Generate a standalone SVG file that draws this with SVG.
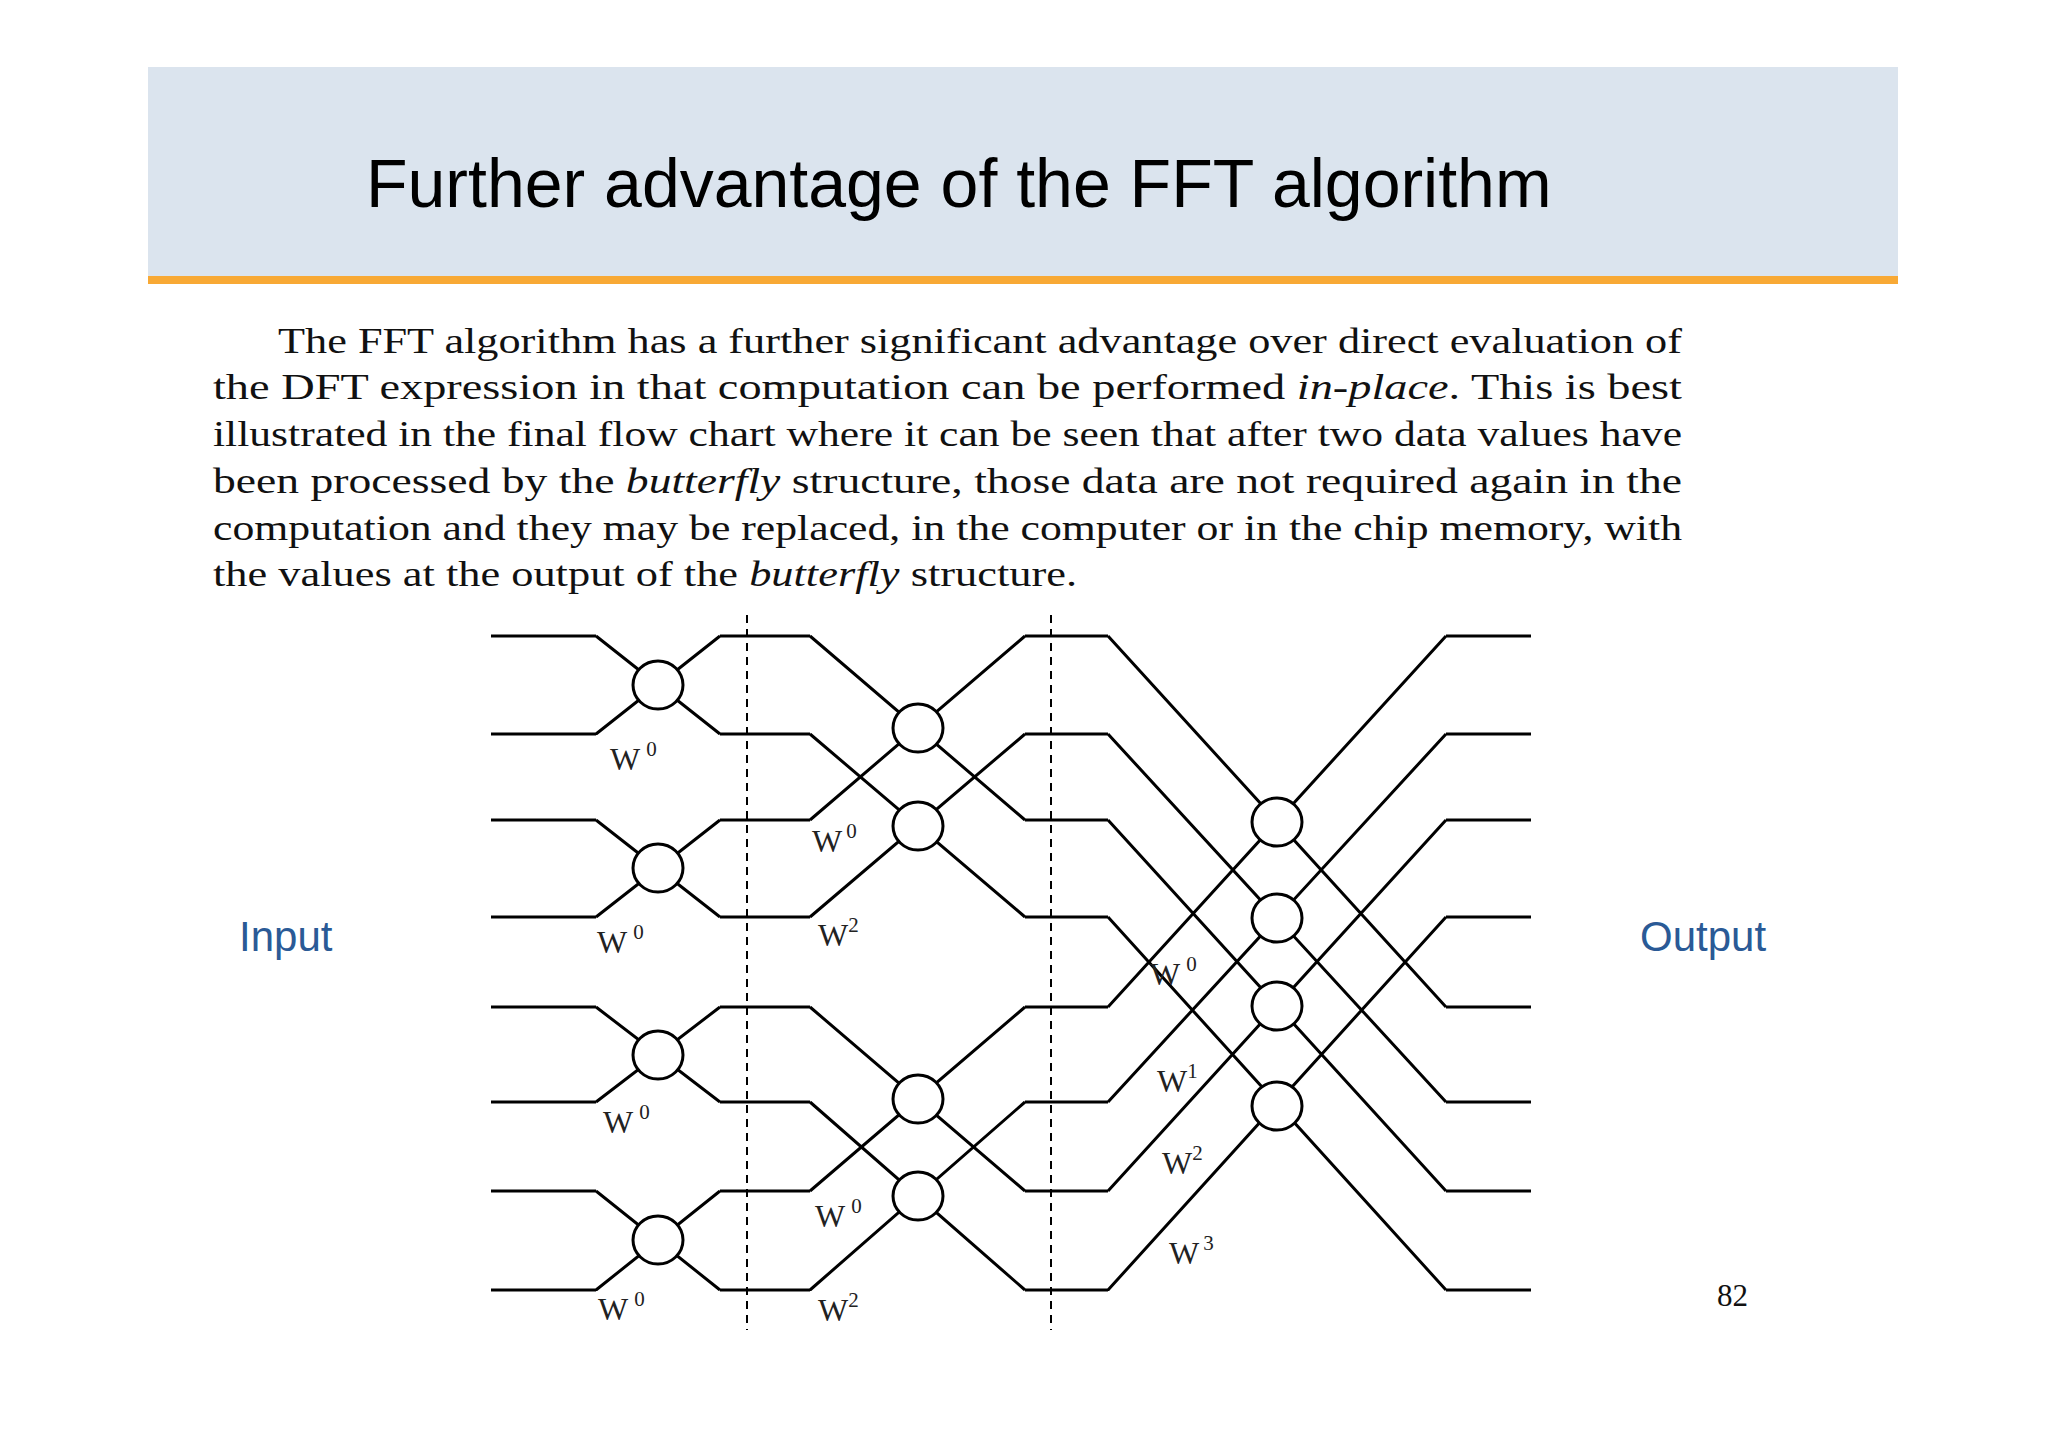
<svg xmlns="http://www.w3.org/2000/svg" width="2048" height="1447" viewBox="0 0 2048 1447">
<style>
.w{fill:none;stroke:#000;stroke-width:3}
.c{fill:#fff;stroke:#000;stroke-width:3}
.d{stroke:#000;stroke-width:2;stroke-dasharray:8 6}
.t{font-family:"Liberation Serif",serif;font-size:35px;fill:#111}
.l{font-family:"Liberation Serif",serif;font-size:32px;fill:#222}
.s{font-size:21px}
.b{font-family:"Liberation Sans",Arial,sans-serif;font-size:42px;fill:#2a5a96}
</style>
<rect width="2048" height="1447" fill="#fff"/>
<g id="header">
<rect x="148" y="67" width="1750" height="209" fill="#dbe4ee"/>
<rect x="148" y="276" width="1750" height="8" fill="#f8a935"/>
<text x="366" y="207" font-family="Liberation Sans,Arial,sans-serif" font-size="68" fill="#000">Further advantage of the FFT algorithm</text>
</g>
<g id="body" class="t">
<text x="278" y="353" textLength="1404" lengthAdjust="spacingAndGlyphs">The FFT algorithm has a further significant advantage over direct evaluation of</text>
<text x="213" y="399" textLength="1469" lengthAdjust="spacingAndGlyphs">the DFT expression in that computation can be performed <tspan font-style="italic">in-place</tspan>.  This is best</text>
<text x="213" y="446" textLength="1469" lengthAdjust="spacingAndGlyphs">illustrated in the final flow chart where it can be seen that after two data values have</text>
<text x="213" y="493" textLength="1469" lengthAdjust="spacingAndGlyphs">been processed by the <tspan font-style="italic">butterfly</tspan> structure, those data are not required again in the</text>
<text x="213" y="540" textLength="1469" lengthAdjust="spacingAndGlyphs">computation and they may be replaced, in the computer or in the chip memory, with</text>
<text x="213" y="586" textLength="864" lengthAdjust="spacingAndGlyphs">the values at the output of the <tspan font-style="italic">butterfly</tspan> structure.</text>
</g>
<g id="connectors">
<line class="d" x1="747" y1="615" x2="747" y2="1330"/>
<line class="d" x1="1051" y1="615" x2="1051" y2="1330"/>
<path class="w" d="M491 636H596M491 734H596M491 820H596M491 917H596M491 1007H596M491 1102H596M491 1191H596M491 1290H596
M596 636L720 734M596 734L720 636M596 820L720 917M596 917L720 820M596 1007L720 1102M596 1102L720 1007M596 1191L720 1290M596 1290L720 1191
M720 636H810M720 734H810M720 820H810M720 917H810M720 1007H810M720 1102H810M720 1191H810M720 1290H810
M810 636L1025 820M810 820L1025 636M810 734L1025 917M810 917L1025 734M810 1007L1025 1191M810 1191L1025 1007M810 1102L1025 1290M810 1290L1025 1102
M1025 636H1108M1025 734H1108M1025 820H1108M1025 917H1108M1025 1007H1108M1025 1102H1108M1025 1191H1108M1025 1290H1108
M1108 636L1446 1007M1108 1007L1446 636M1108 734L1446 1102M1108 1102L1446 734M1108 820L1446 1191M1108 1191L1446 820M1108 917L1446 1290M1108 1290L1446 917
M1446 636H1531M1446 734H1531M1446 820H1531M1446 917H1531M1446 1007H1531M1446 1102H1531M1446 1191H1531M1446 1290H1531"/>
</g>
<g id="nodes">
<g id="s1"><ellipse class="c" cx="658" cy="685" rx="25" ry="24"/><ellipse class="c" cx="658" cy="868" rx="25" ry="24"/><ellipse class="c" cx="658" cy="1055" rx="25" ry="24"/><ellipse class="c" cx="658" cy="1240" rx="25" ry="24"/></g>
<g id="s2"><ellipse class="c" cx="918" cy="728" rx="25" ry="24"/><ellipse class="c" cx="918" cy="826" rx="25" ry="24"/><ellipse class="c" cx="918" cy="1099" rx="25" ry="24"/><ellipse class="c" cx="918" cy="1196" rx="25" ry="24"/></g>
<g id="s3"><ellipse class="c" cx="1277" cy="822" rx="25" ry="24"/><ellipse class="c" cx="1277" cy="918" rx="25" ry="24"/><ellipse class="c" cx="1277" cy="1006" rx="25" ry="24"/><ellipse class="c" cx="1277" cy="1106" rx="25" ry="24"/></g>
</g>
<g id="labels" class="l">
<text x="610" y="770">W<tspan class="s" dx="6" dy="-14">0</tspan></text>
<text x="597" y="953">W<tspan class="s" dx="6" dy="-14">0</tspan></text>
<text x="603" y="1133">W<tspan class="s" dx="6" dy="-14">0</tspan></text>
<text x="598" y="1320">W<tspan class="s" dx="6" dy="-14">0</tspan></text>
<text x="812" y="852">W<tspan class="s" dx="4" dy="-14">0</tspan></text>
<text x="818" y="946">W<tspan class="s" dx="0" dy="-14">2</tspan></text>
<text x="815" y="1227">W<tspan class="s" dx="6" dy="-14">0</tspan></text>
<text x="818" y="1321">W<tspan class="s" dx="0" dy="-14">2</tspan></text>
<text x="1150" y="985">W<tspan class="s" dx="6" dy="-14">0</tspan></text>
<text x="1157" y="1092">W<tspan class="s" dx="0" dy="-14">1</tspan></text>
<text x="1162" y="1174">W<tspan class="s" dx="0" dy="-14">2</tspan></text>
<text x="1169" y="1264">W<tspan class="s" dx="4" dy="-14">3</tspan></text>
</g>
<text class="b" x="239" y="951">Input</text>
<text class="b" x="1640" y="951">Output</text>
<text x="1717" y="1306" font-family="Liberation Serif,serif" font-size="31" fill="#111">82</text>
</svg>
